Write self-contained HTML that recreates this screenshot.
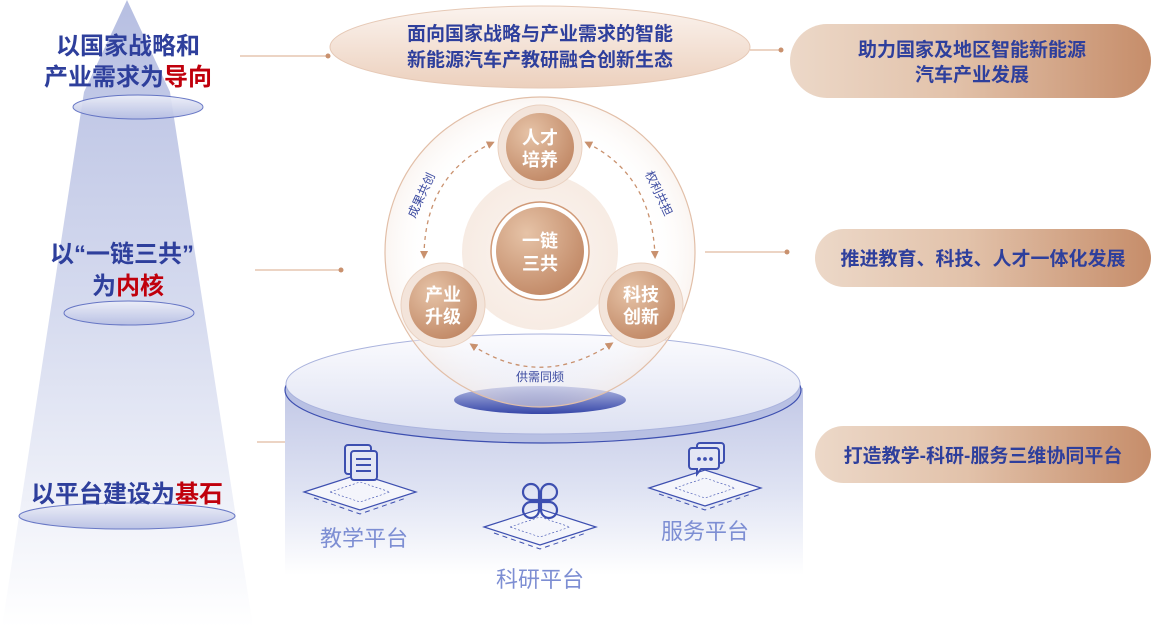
<!DOCTYPE html>
<html><head><meta charset="utf-8"><style>
html,body{margin:0;padding:0;background:#fff;}
body{width:1151px;height:627px;overflow:hidden;position:relative;font-family:"Liberation Sans","Noto Sans CJK SC",sans-serif;}
svg{position:absolute;left:0;top:0;}
</style></head><body>
<svg width="1151" height="627" viewBox="0 0 1151 627" xmlns="http://www.w3.org/2000/svg" font-family="Liberation Sans, Noto Sans CJK SC, sans-serif">
<defs>
<linearGradient id="arrowG" x1="0" y1="0" x2="0" y2="1">
 <stop offset="0" stop-color="#b7bfe2"/><stop offset="0.5" stop-color="#d6dbef"/><stop offset="1" stop-color="#ffffff"/>
</linearGradient>
<linearGradient id="ellL" x1="0" y1="0" x2="0" y2="1">
 <stop offset="0" stop-color="#eef0f9"/><stop offset="1" stop-color="#b6bee3"/>
</linearGradient>
<linearGradient id="pill" x1="0" y1="0" x2="1" y2="0">
 <stop offset="0" stop-color="#ecd8c8"/><stop offset="0.45" stop-color="#e2c2aa"/><stop offset="1" stop-color="#c68d6a"/>
</linearGradient>
<linearGradient id="topE" x1="0" y1="0" x2="0" y2="1">
 <stop offset="0" stop-color="#fbf3ee"/><stop offset="1" stop-color="#ecd0bd"/>
</linearGradient>
<linearGradient id="cylBody" x1="0" y1="0" x2="0" y2="1">
 <stop offset="0" stop-color="#c2c8e6"/><stop offset="0.55" stop-color="#dfe3f3"/><stop offset="1" stop-color="#ffffff"/>
</linearGradient>
<linearGradient id="cylTop" x1="0" y1="0" x2="0" y2="1">
 <stop offset="0" stop-color="#fbfbfe"/><stop offset="1" stop-color="#dde1f2"/>
</linearGradient>
<linearGradient id="darkE" x1="0" y1="0" x2="0" y2="1">
 <stop offset="0" stop-color="#b3bbe3"/><stop offset="1" stop-color="#3747a8"/>
</linearGradient>
<radialGradient id="node" cx="0.35" cy="0.3" r="0.8">
 <stop offset="0" stop-color="#e6c3a7"/><stop offset="1" stop-color="#bf8562"/>
</radialGradient>
<radialGradient id="bigC" cx="0.5" cy="0.5" r="0.5">
 <stop offset="0.7" stop-color="#ffffff" stop-opacity="0"/><stop offset="1" stop-color="#f6ebe4" stop-opacity="0.5"/>
</radialGradient>
<radialGradient id="midC" cx="0.5" cy="0.5" r="0.5">
 <stop offset="0" stop-color="#fcf5f0"/><stop offset="1" stop-color="#f6e9e0"/>
</radialGradient>
<marker id="ah" markerWidth="8" markerHeight="8" refX="5" refY="4" orient="auto-start-reverse" markerUnits="userSpaceOnUse">
 <path d="M0,0 L8,4 L0,8 z" fill="#c9916e"/>
</marker>
</defs>

<!-- left arrow -->
<polygon points="127,0 170,92 253,627 2,627 84,92" fill="url(#arrowG)"/>
<ellipse cx="138" cy="107" rx="65" ry="12" fill="url(#ellL)" stroke="#5a6bc0" stroke-width="1" opacity="0.9"/>
<ellipse cx="129" cy="313" rx="65" ry="12" fill="url(#ellL)" stroke="#5a6bc0" stroke-width="1" opacity="0.9"/>
<ellipse cx="127" cy="516" rx="108" ry="13" fill="url(#ellL)" stroke="#5a6bc0" stroke-width="1" opacity="0.9"/>
<g font-size="24" font-weight="bold" fill="#2e3f9c" text-anchor="middle">
 <text x="128" y="54">以国家战略和</text>
 <text x="128" y="85">产业需求为<tspan fill="#c0000c">导向</tspan></text>
 <text x="122" y="262">以“一链三共”</text>
 <text x="128" y="294">为<tspan fill="#c0000c">内核</tspan></text>
 <text x="127" y="502">以平台建设为<tspan fill="#c0000c">基石</tspan></text>
</g>

<!-- connectors -->
<g stroke="#d9a98a" stroke-width="1">
 <line x1="240" y1="56" x2="328" y2="56"/>
 <line x1="255" y1="270" x2="341" y2="270"/>
 <line x1="257" y1="442" x2="344" y2="442"/>
 <line x1="750" y1="50" x2="780" y2="50"/>
 <line x1="705" y1="252" x2="788" y2="252"/>
 <line x1="720" y1="455" x2="787" y2="455"/>
</g>
<g fill="#c9916e">
 <circle cx="328" cy="56" r="2.5"/><circle cx="341" cy="270" r="2.5"/><circle cx="344" cy="442" r="2.5"/>
 <circle cx="781" cy="50" r="2.5"/><circle cx="787" cy="252" r="2.5"/><circle cx="787" cy="455" r="2.5"/>
</g>

<!-- top ellipse -->
<ellipse cx="540" cy="47" rx="210" ry="41" fill="url(#topE)" stroke="#e6c9b6" stroke-width="1"/>
<g font-size="19" font-weight="bold" fill="#2e3f9c" text-anchor="middle">
 <text x="540" y="40">面向国家战略与产业需求的智能</text>
 <text x="540" y="66">新能源汽车产教研融合创新生态</text>
</g>

<!-- pills -->
<rect x="790" y="24" width="361" height="74" rx="37" fill="url(#pill)"/>
<rect x="815" y="229" width="336" height="58" rx="29" fill="url(#pill)"/>
<rect x="815" y="426" width="336" height="57" rx="28.5" fill="url(#pill)"/>
<g font-size="19" font-weight="bold" fill="#2e3f9c" text-anchor="middle">
 <text x="972" y="56">助力国家及地区智能新能源</text>
 <text x="972" y="81">汽车产业发展</text>
 <text x="983" y="265">推进教育、科技、人才一体化发展</text>
 <text x="983" y="462">打造教学-科研-服务三维协同平台</text>
</g>

<!-- cylinder -->
<path d="M285,388 L285,575 L803,575 L803,388 Z" fill="url(#cylBody)"/>
<ellipse cx="543" cy="390" rx="258" ry="53" fill="#b8c0e3" stroke="#3d4fb0" stroke-width="1.2"/>
<ellipse cx="543" cy="384" rx="257" ry="50" fill="url(#cylTop)" stroke="#aab3dd" stroke-width="1"/>
<ellipse cx="540" cy="400" rx="86" ry="14" fill="url(#darkE)"/>

<!-- circle diagram -->
<circle cx="540" cy="252" r="155" fill="url(#bigC)" stroke="#e2bfa8" stroke-width="1.2"/>
<circle cx="540" cy="252" r="78" fill="url(#midC)" opacity="0.9"/>
<circle cx="540" cy="251" r="49" fill="#fff" stroke="#d09a78" stroke-width="1.5"/>
<circle cx="540" cy="251" r="44" fill="url(#node)"/>
<g>
 <circle cx="540" cy="147" r="42" fill="#f3e4da" stroke="#ead1c0"/>
 <circle cx="540" cy="147" r="34" fill="url(#node)"/>
 <circle cx="443" cy="305" r="42" fill="#f3e4da" stroke="#ead1c0"/>
 <circle cx="443" cy="305" r="34" fill="url(#node)"/>
 <circle cx="641" cy="305" r="42" fill="#f3e4da" stroke="#ead1c0"/>
 <circle cx="641" cy="305" r="34" fill="url(#node)"/>
</g>
<g font-size="18" font-weight="bold" fill="#fff" text-anchor="middle">
 <text x="540" y="144">人才</text><text x="540" y="166">培养</text>
 <text x="540" y="247">一链</text><text x="540" y="270">三共</text>
 <text x="443" y="301">产业</text><text x="443" y="323">升级</text>
 <text x="641" y="301">科技</text><text x="641" y="323">创新</text>
</g>
<g fill="none" stroke="#c9916e" stroke-width="1.3" stroke-dasharray="4,4">
 <path d="M424,256 Q425,175 492,143" marker-start="url(#ah)" marker-end="url(#ah)"/>
 <path d="M587,143 Q652,175 655,256" marker-start="url(#ah)" marker-end="url(#ah)"/>
 <path d="M472,345 Q540,390 611,344" marker-start="url(#ah)" marker-end="url(#ah)"/>
</g>
<g font-size="12" fill="#3b4aa0" text-anchor="middle">
 <text x="0" y="0" transform="translate(425,197) rotate(-65)">成果共创</text>
 <text x="0" y="0" transform="translate(655,195) rotate(65)">权利共担</text>
 <text x="540" y="381">供需同频</text>
</g>

<!-- platforms -->
<g fill="none" stroke="#3d4fb0">
 <g transform="translate(360,492)">
  <path d="M-56,0 L0,-18 L56,0 L0,18 Z" fill="#f4f5fb" stroke-width="1.2"/>
  <path d="M-30,0 L0,-10 L30,0 L0,10 Z" stroke-width="0.6" stroke-dasharray="2,2"/>
  <path d="M-46,6 L0,22 L46,6" stroke-width="1" stroke-dasharray="5,4"/>
  <rect x="-15" y="-47" width="26" height="29" rx="3" stroke-width="2" fill="#e3e6f4"/>
  <rect x="-9" y="-41" width="26" height="29" rx="3" stroke-width="2" fill="#e3e6f4"/>
  <path d="M-4,-33 h15 M-4,-27 h15 M-4,-21 h15" stroke-width="2"/>
 </g>
 <g transform="translate(540,527)">
  <path d="M-56,0 L0,-18 L56,0 L0,18 Z" fill="#f4f5fb" stroke-width="1.2"/>
  <path d="M-30,0 L0,-10 L30,0 L0,10 Z" stroke-width="0.6" stroke-dasharray="2,2"/>
  <path d="M-46,6 L0,22 L46,6" stroke-width="1" stroke-dasharray="5,4"/>
  <path d="M-1,-27 h-8 a8,8 0 1 1 8,-8 z M1,-27 h8 a8,8 0 1 0 -8,-8 z M-1,-25 h-8 a8,8 0 1 0 8,8 z M1,-25 h8 a8,8 0 1 1 -8,8 z" stroke-width="2.2"/>
 </g>
 <g transform="translate(705,488)">
  <path d="M-56,0 L0,-18 L56,0 L0,18 Z" fill="#f4f5fb" stroke-width="1.2"/>
  <path d="M-30,0 L0,-10 L30,0 L0,10 Z" stroke-width="0.6" stroke-dasharray="2,2"/>
  <path d="M-46,6 L0,22 L46,6" stroke-width="1" stroke-dasharray="5,4"/>
  <rect x="-8" y="-45" width="27" height="20" rx="3" stroke-width="2" fill="#e3e6f4"/>
  <path d="M-13,-40 h24 a3,3 0 0 1 3,3 v15 a3,3 0 0 1 -3,3 h-15 l-4,5 v-5 h-5 a3,3 0 0 1 -3,-3 v-15 a3,3 0 0 1 3,-3 z" stroke-width="2" fill="#e3e6f4"/>
  <circle cx="-6" cy="-29" r="1.4" fill="#3d4fb0"/><circle cx="0" cy="-29" r="1.4" fill="#3d4fb0"/><circle cx="6" cy="-29" r="1.4" fill="#3d4fb0"/>
 </g>
</g>
<g font-size="22" fill="#7d8ed3" text-anchor="middle">
 <text x="364" y="546">教学平台</text>
 <text x="540" y="587">科研平台</text>
 <text x="705" y="539">服务平台</text>
</g>
</svg>
</body></html>
